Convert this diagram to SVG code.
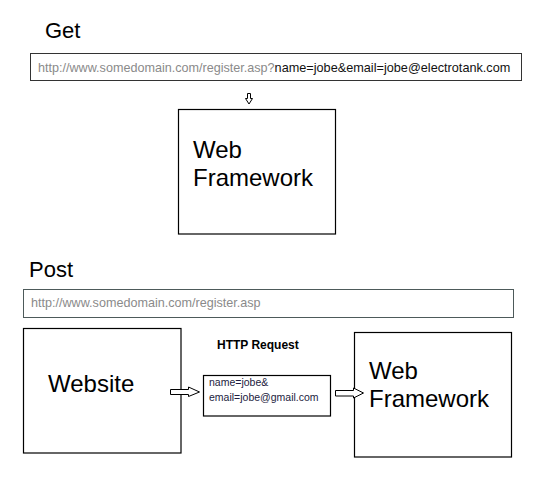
<svg xmlns="http://www.w3.org/2000/svg" width="538" height="478" viewBox="0 0 538 478">
<style>
text{font-family:"Liberation Sans",Arial,sans-serif}
.box{fill:#fff;stroke:#000;stroke-width:1.2}
.bar{fill:#fff;stroke:#333;stroke-width:1}
.url{font-size:12.6px;fill:#8a8a8a}
.dark{fill:#111;font-size:12.7px}
.big{font-size:24px;fill:#000}
.title{font-size:22px;fill:#000}
.arr{fill:#fff;stroke:#000;stroke-width:1}
.req{font-size:10.5px;fill:#1c1c40}
</style>
<rect width="538" height="478" fill="#fff"/>
<g id="get-title"><text class="title" x="45" y="38">Get</text></g>
<g id="get-url">
<rect class="bar" x="30.5" y="53.5" width="491" height="27"/>
<text class="url" x="38" y="72">http://www.somedomain.com/register.asp?<tspan class="dark">name=jobe&amp;email=jobe@electrotank.com</tspan></text>
</g>
<g id="get-framework">
<rect class="box" x="178.5" y="109.5" width="157" height="124.5"/>
<text class="big" x="193" y="158">Web</text>
<text class="big" x="193" y="186">Framework</text>
</g>
<g id="post-title"><text class="title" x="29" y="277">Post</text></g>
<g id="post-url">
<rect class="bar" x="23.5" y="289.5" width="490" height="28" style="stroke:#4d5a5a"/>
<text class="url" x="31" y="307">http://www.somedomain.com/register.asp</text>
</g>
<g id="website">
<rect class="box" x="23.5" y="328.5" width="157.5" height="124.5"/>
<text class="big" x="48" y="392">Website</text>
</g>
<g id="http-request">
<text x="217" y="349" style="font-size:12px;font-weight:bold;fill:#000">HTTP Request</text>
<rect class="box" x="203.5" y="375.5" width="127" height="40.5"/>
<text class="req" x="209" y="386">name=jobe&amp;</text>
<text class="req" x="209" y="401">email=jobe@gmail.com</text>
</g>
<g id="post-framework">
<rect class="box" x="354.5" y="332.5" width="157" height="124.5"/>
<text class="big" x="369" y="379">Web</text>
<text class="big" x="369" y="407">Framework</text>
</g>
<g id="connectors">
<path class="arr" d="M247.5,93.5 H250.5 V98.5 H252.5 L249,104 L245.5,98.5 H247.5 Z"/>
<path class="arr" d="M170.5,389.5 H188.5 V387 L199.5,392 L188.5,396.5 V394.5 H170.5 Z"/>
<path class="arr" d="M335.5,390.5 H353.5 V388 L363.5,393 L353.5,398 V396 H335.5 Z"/>
</g>
</svg>
